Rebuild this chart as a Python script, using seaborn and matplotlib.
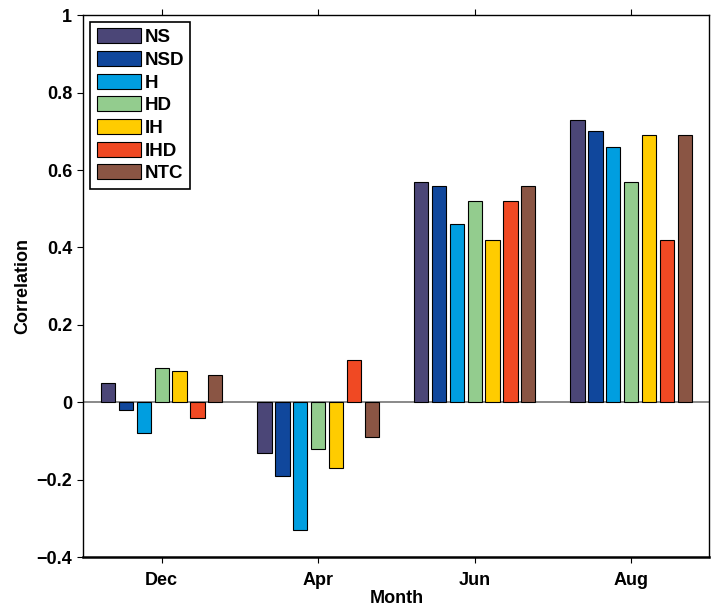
import pandas as pd
import matplotlib.pyplot as plt
import seaborn as sns

months = ['Dec', 'Apr', 'Jun', 'Aug']
series = ['NS', 'NSD', 'H', 'HD', 'IH', 'IHD', 'NTC']
colors = ['#4B4677', '#10479C', '#009EE0', '#93CC8E', '#FFCC00', '#F04923', '#8A5544']

ns = [0.05, -0.13, 0.57, 0.73]
nsd = [-0.02, -0.19, 0.56, 0.70]
h = [-0.08, -0.33, 0.46, 0.66]
hd = [0.09, -0.12, 0.52, 0.57]
ih = [0.08, -0.17, 0.42, 0.69]
ihd = [-0.04, 0.11, 0.52, 0.42]
ntc = [0.07, -0.09, 0.56, 0.69]

vals = dict(zip(series, [ns, nsd, h, hd, ih, ihd, ntc]))
rows = []
for s in series:
    for m, v in zip(months, vals[s]):
        rows.append({'Month': m, 'Series': s, 'Correlation': v})
df = pd.DataFrame(rows)

sns.set_style('ticks')
plt.rcParams['font.family'] = ['Liberation Sans', 'DejaVu Sans']
plt.rcParams['font.weight'] = 'bold'
plt.rcParams['axes.labelweight'] = 'bold'
plt.rcParams['text.color'] = 'black'
plt.rcParams['axes.labelcolor'] = 'black'
plt.rcParams['xtick.color'] = 'black'
plt.rcParams['ytick.color'] = 'black'
plt.rcParams['axes.edgecolor'] = 'black'

fig, ax = plt.subplots(figsize=(7.13, 6.07), dpi=100)
sns.barplot(data=df, x='Month', y='Correlation', hue='Series', order=months,
            hue_order=series, palette=colors, saturation=1, width=0.8, gap=0.2,
            edgecolor='black', linewidth=0.8, ax=ax)
ax.axhline(0, color='gray', lw=1.3, zorder=0.5)

ax.set_xlim(-0.5, 3.5)
ax.set_ylim(-0.4, 1)
ax.set_yticks([-0.4, -0.2, 0, 0.2, 0.4, 0.6, 0.8, 1])
ax.set_yticklabels(['\u22120.4', '\u22120.2', '0', '0.2', '0.4', '0.6', '0.8', '1'])
ax.tick_params(direction='out', top=True, right=False, labelsize=13, length=4.5, width=0.8)
ax.tick_params(axis='x', pad=6)
ax.tick_params(axis='y', pad=3.5)
for t in ax.get_xticklabels() + ax.get_yticklabels():
    t.set_fontweight('bold')
for sp in ax.spines.values():
    sp.set_visible(True)
    sp.set_linewidth(1)
ax.spines['bottom'].set_linewidth(1.8)
ax.set_xlabel('Month', fontsize=13, labelpad=1)
ax.set_ylabel('Correlation', fontsize=13, labelpad=4)

leg = ax.legend(loc='upper left', frameon=True, fancybox=False, edgecolor='black',
                handlelength=2.35, handleheight=0.85, handletextpad=0.2,
                labelspacing=0.25, borderpad=0.35, borderaxespad=0.35,
                prop={'weight': 'bold', 'size': 13.5})
leg.get_frame().set_linewidth(1.2)
leg.get_frame().set_alpha(1)

fig.subplots_adjust(left=0.117, right=0.995, top=0.975, bottom=0.082)
fig.savefig('out.png', dpi=100)
